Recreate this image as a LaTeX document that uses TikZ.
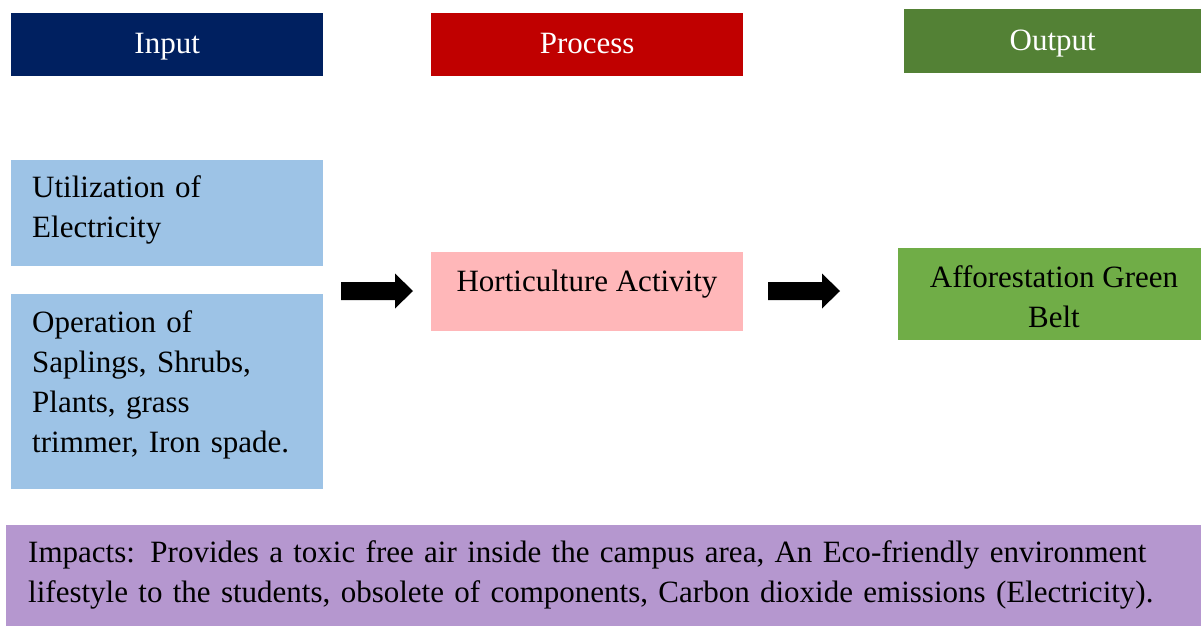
\documentclass[tikz,border=0pt]{standalone}
\usepackage{fontspec}
\setmainfont{Liberation Serif}
\definecolor{navyhead}{HTML}{002060}
\definecolor{redhead}{HTML}{C00000}
\definecolor{greenhead}{HTML}{538135}
\definecolor{inblue}{HTML}{9DC3E6}
\definecolor{procpink}{HTML}{FFB7B9}
\definecolor{outgreen}{HTML}{70AD47}
\definecolor{impactlilac}{HTML}{B597CF}
\tikzset{
  box/.style={rectangle, inner sep=0pt, anchor=north west,
    font=\fontsize{31}{40}\selectfont},
  header/.style={box, text=white, text height=23pt, text depth=5pt},
  leftbox/.style={box, align=left, text width=#1},
}
% block arrow: tail at #1, 72pt long, shaft 18pt, head 35pt wide and 18pt long
\newcommand\blockarrowat[1]{%
  \fill[black] (#1) ++(0,-9) -- ++(54,0) -- ++(0,-8.5) -- ++(18,17.5)
    -- ++(-18,17.5) -- ++(0,-8.5) -- ++(-54,0) -- cycle;}
\begin{document}
\begin{tikzpicture}[x=1pt,y=-1pt]
  \useasboundingbox[fill=white] (0,0) rectangle (1201,626);

  % column headers
  \node[header, fill=navyhead, minimum width=312pt, minimum height=63pt] (hin) at (11,13) {Input};
  \node[header, fill=redhead, minimum width=312pt, minimum height=63pt] (hproc) at (431,13) {Process};
  \node[header, fill=greenhead, minimum width=297pt, minimum height=64pt] (hout) at (904,9) {Output};

  % inputs
  \node[box, fill=inblue, minimum width=312pt, minimum height=106pt] (in1) at (11,160) {};
  \node[leftbox=285pt, anchor=west] (in1t) at (32,210) {Utilization of\\Electricity};
  \node[box, fill=inblue, minimum width=312pt, minimum height=195pt] (in2) at (11,294) {};
  \node[leftbox=290pt, anchor=west] (in2t) at (32,385) {Operation of\\Saplings, Shrubs,\\Plants, grass\\trimmer, Iron spade.};

  % process
  \node[box, fill=procpink, minimum width=312pt, minimum height=79pt] (proc) at (431,252) {};
  \node[box, anchor=center] (proct) at (587,284) {Horticulture Activity};

  % output
  \node[box, fill=outgreen, minimum width=303pt, minimum height=92pt] (out) at (898,248) {};
  \node[box, anchor=center, align=center] (outt) at (1054,297) {Afforestation Green\\Belt};

  % block arrows between the columns
  \coordinate (a1) at (341,291);
  \coordinate (a2) at (768,291);
  \blockarrowat{a1}
  \blockarrowat{a2}

  % impacts
  \node[box, fill=impactlilac, minimum width=1195pt, minimum height=101pt] (imp) at (6,525) {};
  \node[leftbox=1170pt, anchor=west] (impt) at (28,575) {Impacts: Provides a toxic free air inside the campus area, An Eco-friendly environment\\lifestyle to the students, obsolete of components, Carbon dioxide emissions (Electricity).};
\end{tikzpicture}
\end{document}
